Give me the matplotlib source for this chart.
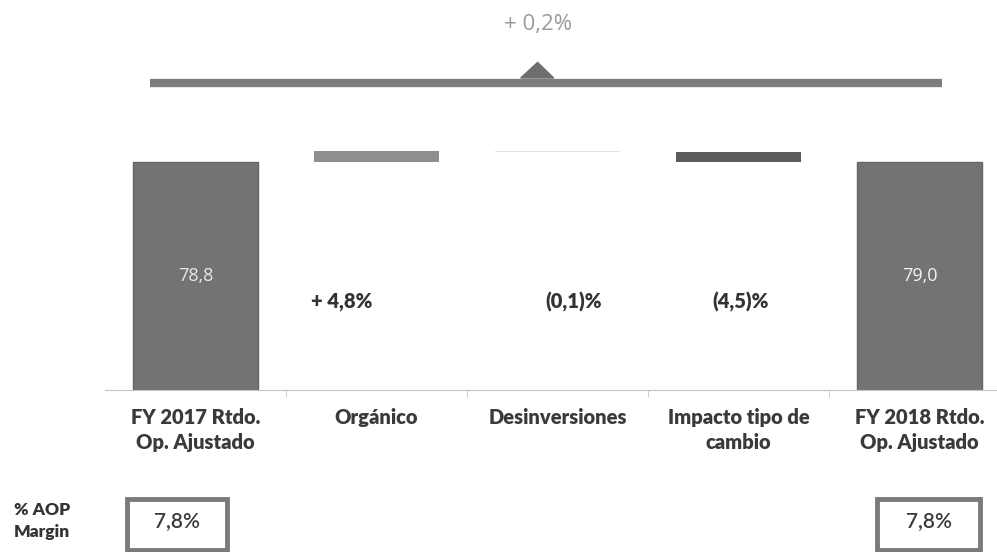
import matplotlib
matplotlib.use("Agg")
import matplotlib.pyplot as plt
from matplotlib.patches import Rectangle, Polygon
from matplotlib.transforms import blended_transform_factory

# data
categories = ["FY 2017 Rtdo.\nOp. Ajustado", "Orgánico", "Desinversiones",
              "Impacto tipo de\ncambio", "FY 2018 Rtdo.\nOp. Ajustado"]
totals_start = 78.8
changes = [3.8, -0.1, -3.5]
totals_end = 79.0
pct_labels = ["+ 4,8%", "(0,1)%", "(4,5)%"]
total_labels = ["78,8", "79,0"]
overall_change = "+ 0,2%"
margin_labels = ["7,8%", "7,8%"]

# styles / layout
bar_grey = "#737373"
change_colors = ["#8e8e8e", "#e2e2e2", "#5c5c5c"]
pct_dx = [-0.19, 0.09, 0.01]
cat_font = ["Lato", "DejaVu Sans"]

fig = plt.figure(figsize=(9.97, 5.52), dpi=100)
ax = fig.add_axes([105 / 997, 1 - 390 / 552, 892 / 997, 390 / 552])
ax.set_xlim(-0.5, -0.5 + 892 / 181)
ax.set_ylim(0, 390 / 2.89)

w = 0.69
# start and end totals
ax.bar(0, totals_start, width=w, color=bar_grey, edgecolor="#666666", linewidth=1)
ax.bar(4, totals_end, width=w, color=bar_grey, edgecolor="#666666", linewidth=1)

# floating change bars
level = totals_start
for i, ch in enumerate(changes):
    ax.bar(i + 1, ch, bottom=level, width=w, color=change_colors[i], linewidth=0)
    level += ch

ax.text(0, totals_start / 2, total_labels[0], ha="center", va="center",
        color="#e8e8e8", fontsize=13, family=["Open Sans", "DejaVu Sans"])
ax.text(4, totals_end / 2, total_labels[1], ha="center", va="center",
        color="#f4f4f4", fontsize=13, family=["Open Sans", "DejaVu Sans"])

trans = blended_transform_factory(ax.transData, ax.transAxes)
for i, lab in enumerate(pct_labels):
    ax.text(i + 1 + pct_dx[i], 0.226, lab, transform=trans, ha="center", va="center",
            fontsize=14.5, fontweight="heavy", color="#333333", family=cat_font)

# overall bracket line with triangle
ax.plot([0.05, 0.938], [0.787, 0.787], transform=ax.transAxes, color="#7d7d7d",
        linewidth=6, solid_capstyle="butt", clip_on=False)
ax.add_patch(Polygon([[0.466, 0.80], [0.503, 0.80], [0.485, 0.84]], closed=True,
                     transform=ax.transAxes, color="#6e6e6e", clip_on=False))
ax.text(0.485, 0.936, overall_change, transform=ax.transAxes, ha="center", va="center",
        fontsize=16, color="#9a9a9a", family=["Open Sans", "DejaVu Sans"])

# axis styling
for s in ["top", "right", "left"]:
    ax.spines[s].set_visible(False)
ax.spines["bottom"].set_color("#c4c4c4")
ax.set_yticks([])
ax.set_xticks(range(len(categories)))
ax.set_xticklabels(categories, fontsize=14.5, fontweight="heavy", color="#3a3a3a",
                   family=cat_font, linespacing=1.4)
ax.tick_params(axis="x", length=0, pad=13)
ax.set_xticks([0.5, 1.5, 2.5, 3.5], minor=True)
ax.tick_params(axis="x", which="minor", length=5, color="#c4c4c4")

# margin row
fig.text(42 / 997, 1 - 521 / 552, "% AOP\nMargin", ha="center", va="center",
         fontsize=12.5, fontweight="heavy", color="#333333", family=cat_font,
         linespacing=1.45)
for (x0, x1), lab in zip([(127, 227), (877, 980)], margin_labels):
    fig.patches.append(Rectangle((x0 / 997, 1 - 550 / 552), (x1 - x0) / 997, 51 / 552,
                                 transform=fig.transFigure, fill=False,
                                 edgecolor="#7a7a7a", linewidth=3.5))
    fig.text((x0 + x1) / 2 / 997, 1 - 521 / 552, lab, ha="center", va="center",
             fontsize=15, fontweight="semibold", color="#3a3a3a", family=cat_font)

fig.savefig("out.png", dpi=100, facecolor="white")
